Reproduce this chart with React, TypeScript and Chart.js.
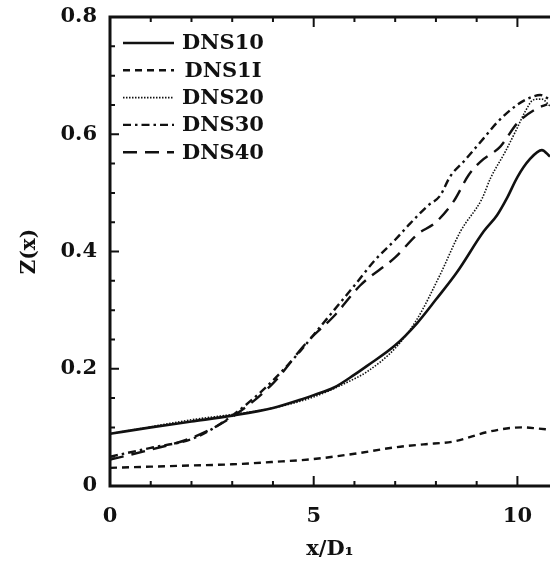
import React, { useEffect, useRef } from "react";
import { Chart, registerables } from "chart.js";

Chart.register(...registerables);

// DNS10 (solid)
const dns10X = [0, 1, 2, 3, 4, 4.67, 5, 5.5, 6, 6.31, 7, 7.54, 8, 8.52, 9.17, 9.5, 9.75, 10, 10.3, 10.6, 10.8];
const dns10Y = [0.089, 0.1, 0.11, 0.12, 0.133, 0.147, 0.155, 0.168, 0.19, 0.205, 0.24, 0.278, 0.318, 0.365, 0.434, 0.462, 0.492, 0.527, 0.557, 0.573, 0.562];

// DNS1I (short dash)
const dns1iX = [0, 1, 2, 3, 4, 5, 6, 7, 7.7, 8.44, 9.26, 9.83, 10.16, 10.5, 10.8];
const dns1iY = [0.031, 0.033, 0.035, 0.037, 0.041, 0.046, 0.055, 0.066, 0.071, 0.076, 0.092, 0.099, 0.1, 0.098, 0.096];

// DNS20 (dotted)
const dns20X = [0, 1, 2, 3, 4, 5, 6, 6.31, 7, 7.54, 8.1, 8.6, 9.13, 9.34, 9.7, 9.99, 10.2, 10.4, 10.6, 10.8];
const dns20Y = [0.089, 0.101, 0.113, 0.122, 0.133, 0.152, 0.183, 0.195, 0.235, 0.285, 0.36, 0.434, 0.49, 0.525, 0.57, 0.61, 0.64, 0.659, 0.66, 0.648];

// DNS30 (dash-dot)
const dns30X = [0, 1, 2, 2.5, 3, 3.5, 4, 4.67, 5, 5.5, 6, 6.5, 7, 7.37, 7.8, 8.1, 8.35, 8.7, 9.17, 9.5, 9.99, 10.3, 10.56, 10.8];
const dns30Y = [0.05, 0.065, 0.08, 0.097, 0.12, 0.148, 0.18, 0.23, 0.258, 0.3, 0.342, 0.385, 0.42, 0.448, 0.478, 0.495, 0.528, 0.555, 0.593, 0.62, 0.65, 0.662, 0.667, 0.659];

// DNS40 (long dash)
const dns40X = [0, 1, 2, 3, 4, 4.83, 5.5, 6.14, 7, 7.54, 8, 8.43, 8.8, 9.09, 9.58, 10, 10.48, 10.73];
const dns40Y = [0.045, 0.062, 0.082, 0.118, 0.175, 0.245, 0.29, 0.342, 0.39, 0.429, 0.45, 0.485, 0.53, 0.553, 0.579, 0.619, 0.644, 0.651];

const seriesLabels = ["DNS10", "DNS1I", "DNS20", "DNS30", "DNS40"];
const yTickValues = [0, 0.2, 0.4, 0.6, 0.8];
const xTickValues = [0, 5, 10];

const FONT = "'DejaVu Serif', serif";

function pts(xs: number[], ys: number[]) {
  return xs.map((x, i) => ({ x, y: ys[i] }));
}

const axesPlugin = {
  id: "axesPlugin",
  afterDatasetsDraw(chart: any) {
    const { ctx, chartArea } = chart;
    const { left, right, top, bottom } = chartArea;
    const xs = chart.scales.x;
    const ys = chart.scales.y;
    ctx.save();
    ctx.strokeStyle = "#111";
    ctx.lineWidth = 3;
    ctx.setLineDash([]);
    ctx.beginPath();
    ctx.moveTo(left, top);
    ctx.lineTo(left, bottom);
    ctx.moveTo(left - 1.5, bottom);
    ctx.lineTo(right, bottom);
    ctx.moveTo(left - 1.5, top);
    ctx.lineTo(right, top);
    ctx.stroke();
    ctx.lineWidth = 2;
    ctx.beginPath();
    for (let i = 1; i < 16; i++) {
      const v = i * 0.05;
      const py = ys.getPixelForValue(v);
      const len = i % 4 === 0 ? 9 : 5;
      ctx.moveTo(left, py);
      ctx.lineTo(left + len, py);
    }
    for (let i = 1; i <= 10; i++) {
      const px = xs.getPixelForValue(i);
      const len = i % 5 === 0 ? 10 : 5;
      ctx.moveTo(px, bottom);
      ctx.lineTo(px, bottom - len);
      ctx.moveTo(px, top);
      ctx.lineTo(px, top + len);
    }
    ctx.stroke();

    // legend
    const ds = chart.data.datasets;
    ctx.font = `bold 21px ${FONT}`;
    ctx.fillStyle = "#111";
    ctx.textAlign = "center";
    ctx.textBaseline = "middle";
    ds.forEach((d: any, i: number) => {
      const y = 43 + 27.3 * i;
      ctx.strokeStyle = "#111";
      ctx.lineWidth = d.borderWidth;
      ctx.setLineDash(d.borderDash || []);
      ctx.beginPath();
      ctx.moveTo(123, y);
      ctx.lineTo(174, y);
      ctx.stroke();
      ctx.setLineDash([]);
      ctx.fillText(d.label, 223, y + 1);
    });
    ctx.restore();
  },
};

export default function App() {
  const ref = useRef<HTMLCanvasElement>(null);
  useEffect(() => {
    const canvas = ref.current!;
    const common = { fill: false, pointRadius: 0, cubicInterpolationMode: "monotone" as const, borderColor: "#111" };
    const chart = new Chart(canvas, {
      type: "line",
      data: {
        datasets: [
          { ...common, label: seriesLabels[0], data: pts(dns10X, dns10Y), borderWidth: 2.6, borderDash: [] },
          { ...common, label: seriesLabels[1], data: pts(dns1iX, dns1iY), borderWidth: 2.4, borderDash: [7, 5] },
          { ...common, label: seriesLabels[2], data: pts(dns20X, dns20Y), borderWidth: 1.6, borderDash: [1.5, 1.5] },
          { ...common, label: seriesLabels[3], data: pts(dns30X, dns30Y), borderWidth: 2.4, borderDash: [8, 4, 2.5, 4] },
          { ...common, label: seriesLabels[4], data: pts(dns40X, dns40Y), borderWidth: 2.4, borderDash: [14, 8] },
        ],
      },
      options: {
        animation: false,
        responsive: false,
        devicePixelRatio: 1,
        layout: { padding: { top: 17, right: 0, left: 0, bottom: 0 } },
        plugins: { legend: { display: false }, tooltip: { enabled: false } },
        scales: {
          x: {
            type: "linear",
            min: 0,
            max: 10.8,
            border: { display: false },
            grid: { display: false, drawTicks: false },
            afterBuildTicks: (s: any) => {
              s.ticks = xTickValues.map((v) => ({ value: v }));
            },
            afterFit: (s: any) => {
              s.height = 76;
              s.paddingLeft = 0;
              s.paddingRight = 0;
              s.paddingTop = 0;
              s.paddingBottom = 0;
            },
            ticks: {
              padding: 18,
              color: "#111",
              maxRotation: 0,
              font: { family: FONT, size: 21, weight: "bold" },
              callback: (v: any) => String(v),
            },
            title: {
              display: true,
              text: "x/D\u2081",
              color: "#111",
              padding: { top: 0, bottom: 0 },
              font: { family: FONT, size: 21, weight: "bold" },
            },
          },
          y: {
            type: "linear",
            min: 0,
            max: 0.8,
            border: { display: false },
            grid: { display: false, drawTicks: false },
            afterBuildTicks: (s: any) => {
              s.ticks = yTickValues.map((v) => ({ value: v }));
            },
            afterFit: (s: any) => {
              s.width = 110;
              s.paddingLeft = 0;
              s.paddingRight = 0;
              s.paddingTop = 0;
              s.paddingBottom = 0;
            },
            ticks: {
              padding: 13,
              color: "#111",
              font: { family: FONT, size: 21, weight: "bold" },
              callback: (v: any) => (v === 0 ? "0" : Number(v).toFixed(1)),
            },
            title: {
              display: true,
              text: "Z(x)",
              color: "#111",
              padding: { top: 18, bottom: 0 },
              font: { family: FONT, size: 20, weight: "bold" },
            },
          },
        },
      },
      plugins: [axesPlugin],
    });
    return () => chart.destroy();
  }, []);
  return (
    <div style={{ position: "fixed", left: 0, top: 0, width: 550, height: 562, background: "#fff" }}>
      <canvas ref={ref} width={550} height={562} style={{ display: "block" }} />
    </div>
  );
}
